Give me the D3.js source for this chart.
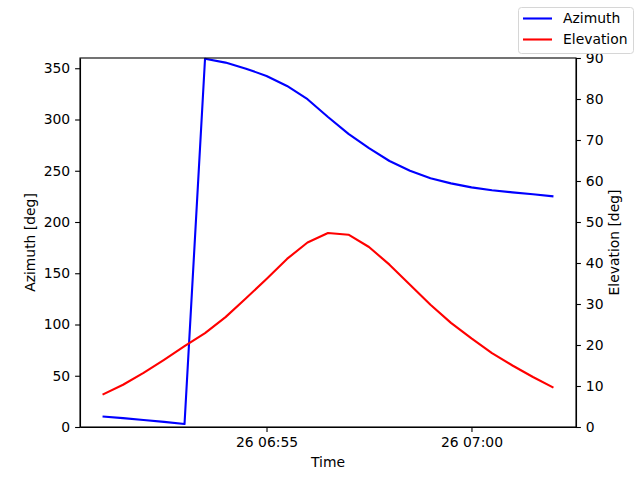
<!DOCTYPE html>
<html>
<head>
    <script src="https://d3js.org/d3.v7.min.js"></script>
    <style>
        body { margin: 0; background: #fff; }
        .axis text { font: 13.9px "DejaVu Sans", sans-serif; fill: #000; }
        .axis path, .axis line { stroke: #000; stroke-width: 1.1; }
        .line { fill: none; stroke-width: 2.1; stroke-linejoin: round; }
        .label { font: 13.9px "DejaVu Sans", sans-serif; text-anchor: middle; }
        .legend text { font: 13.9px "DejaVu Sans", sans-serif; }
    </style>
</head>
<body>
<svg width="640" height="480"></svg>
<script>
    // Observation times (30 s steps)
    const times = [
        "06:51:00", "06:51:30", "06:52:00", "06:52:30", "06:53:00", "06:53:30",
        "06:54:00", "06:54:30", "06:55:00", "06:55:30", "06:56:00", "06:56:30",
        "06:57:00", "06:57:30", "06:58:00", "06:58:30", "06:59:00", "06:59:30",
        "07:00:00", "07:00:30", "07:01:00", "07:01:30", "07:02:00"
    ];
    const azimuth = [
        10.3, 8.7, 6.9, 5.0, 2.9, 359.3, 355.5, 349.6, 342.5, 332.7, 319.8, 302.5,
        286.0, 272.0, 259.5, 250.0, 242.6, 237.7, 233.8, 231.0, 228.9, 227.0, 225.0
    ];
    const elevation = [
        7.9, 10.3, 13.2, 16.4, 19.7, 22.9, 26.8, 31.4, 36.1, 41.0, 45.0, 47.3,
        46.9, 43.9, 39.6, 34.7, 29.8, 25.4, 21.6, 18.0, 15.0, 12.2, 9.6
    ];
    const xTicks = ["06:55:00", "07:00:00"];
    const azTicks = [0, 50, 100, 150, 200, 250, 300, 350];
    const elTicks = [0, 10, 20, 30, 40, 50, 60, 70, 80, 90];

    const day = "2023-01-26 ";
    const parse = d3.timeParse("%Y-%m-%d %H:%M:%S");

    const margin = {top: 58, right: 64, bottom: 53, left: 80},
        width = 640 - margin.left - margin.right,
        height = 480 - margin.top - margin.bottom;

    const data = times.map((t, i) => ({t: parse(day + t), az: azimuth[i], el: elevation[i]}));

    // x domain with matplotlib-like 5% padding
    const ext = d3.extent(data, d => d.t);
    const pad = (ext[1] - ext[0]) * 0.05;
    const x = d3.scaleTime()
        .domain([new Date(+ext[0] - pad), new Date(+ext[1] + pad)])
        .range([0, width]);
    const yAz = d3.scaleLinear().domain([0, 360]).range([height, 0]);
    const yEl = d3.scaleLinear().domain([0, 90]).range([height, 0]);

    const svg = d3.select("svg")
        .append("g")
        .attr("transform", "translate(" + margin.left + "," + margin.top + ")");

    const tick = 4.9;

    // Lines
    svg.append("path")
        .datum(data)
        .attr("class", "line")
        .style("stroke", "blue")
        .attr("d", d3.line().x(d => x(d.t)).y(d => yAz(d.az)));

    svg.append("path")
        .datum(data)
        .attr("class", "line")
        .style("stroke", "red")
        .attr("d", d3.line().x(d => x(d.t)).y(d => yEl(d.el)));

    // Axes
    svg.append("g")
        .attr("class", "axis")
        .attr("transform", "translate(0," + height + ")")
        .call(d3.axisBottom(x)
            .tickValues(xTicks.map(t => parse(day + t)))
            .tickFormat(d3.timeFormat("%d %H:%M"))
            .tickSize(tick).tickPadding(tick).tickSizeOuter(0));

    svg.append("g")
        .attr("class", "axis")
        .call(d3.axisLeft(yAz).tickValues(azTicks)
            .tickSize(tick).tickPadding(tick).tickSizeOuter(0));

    svg.append("g")
        .attr("class", "axis")
        .attr("transform", "translate(" + width + ",0)")
        .call(d3.axisRight(yEl).tickValues(elTicks)
            .tickSize(tick).tickPadding(tick).tickSizeOuter(0));

    // Frame
    svg.append("rect")
        .attr("width", width)
        .attr("height", height)
        .attr("fill", "none")
        .attr("stroke", "#000")
        .attr("stroke-width", 1.1);

    // Axis titles
    svg.append("text")
        .attr("class", "label")
        .attr("x", width / 2)
        .attr("y", height + 40)
        .text("Time");

    svg.append("text")
        .attr("class", "label")
        .attr("transform", "rotate(-90)")
        .attr("x", -height / 2)
        .attr("y", -margin.left + 35)
        .text("Azimuth [deg]");

    svg.append("text")
        .attr("class", "label")
        .attr("transform", "rotate(-90)")
        .attr("x", -height / 2)
        .attr("y", width + 43)
        .text("Elevation [deg]");

    // Legend (figure upper right)
    const legend = d3.select("svg").append("g").attr("class", "legend");
    legend.append("rect")
        .attr("x", 518.5).attr("y", 7.5)
        .attr("width", 115).attr("height", 46)
        .attr("rx", 3)
        .attr("fill", "#fff").attr("fill-opacity", 0.8)
        .attr("stroke", "#d6d6d6");
    const items = [{name: "Azimuth", color: "blue"}, {name: "Elevation", color: "red"}];
    const li = legend.selectAll(".item")
        .data(items)
        .enter().append("g")
        .attr("transform", (d, i) => "translate(0," + (18.5 + i * 21) + ")");
    li.append("line")
        .attr("x1", 523).attr("x2", 552)
        .attr("stroke", d => d.color)
        .attr("stroke-width", 2.1);
    li.append("text")
        .attr("x", 563)
        .attr("dy", "0.35em")
        .text(d => d.name);
</script>
</body>
</html>
